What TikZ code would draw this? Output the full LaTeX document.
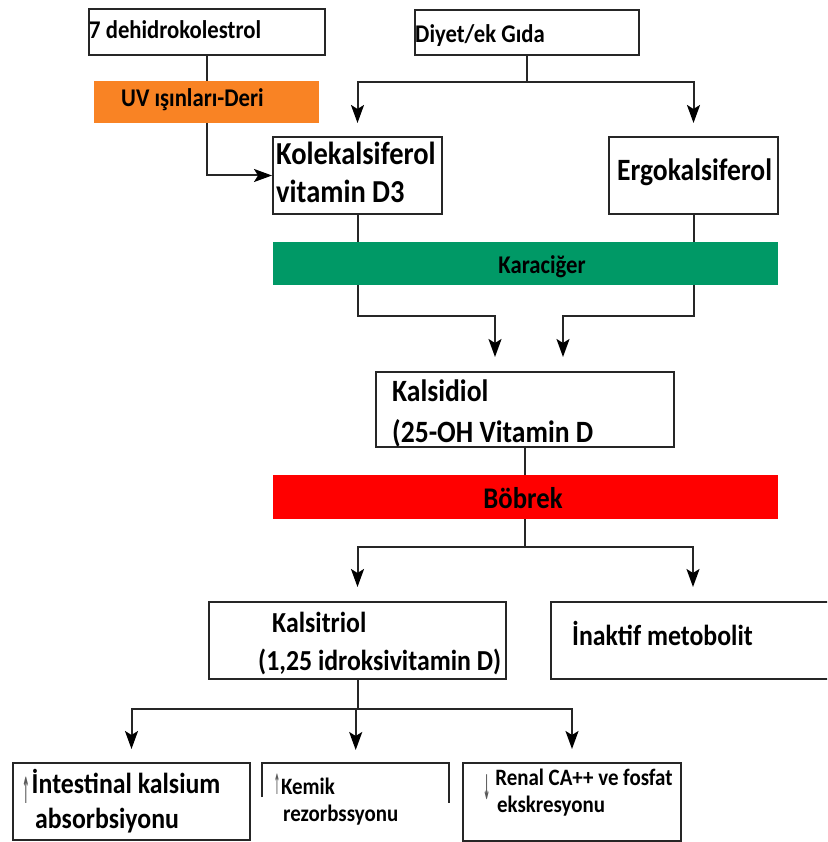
\documentclass[tikz,border=0pt]{standalone}
\usepackage{fontspec}
\setmainfont{Carlito}[FakeStretch=0.89]
\newfontfamily\arrowfont{DejaVu Sans}
\usetikzlibrary{arrows.meta,backgrounds}
\definecolor{uvorange}{HTML}{F98324}
\definecolor{livergreen}{HTML}{009966}
\definecolor{kidneyred}{HTML}{FF0000}
\definecolor{linegray}{HTML}{262626}
\newcommand{\upglyph}[2]{{\arrowfont\fontsize{#1}{#1}\selectfont\color{black!65}\raisebox{#2}{\scalebox{0.25}[1]{↑}}}}
\newcommand{\downglyph}[2]{{\arrowfont\fontsize{#1}{#1}\selectfont\color{black!65}\raisebox{#2}{\scalebox{0.25}[1]{↓}}}}
\tikzset{
  box/.style={draw=linegray, line width=2pt, fill=white, inner sep=0pt, anchor=north west},
  bar/.style={inner sep=0pt, anchor=north west},
  lbl/.style={inner sep=0pt, anchor=base west, text=black},
  conn/.style={draw=linegray, line width=2pt},
  arr/.style={conn, -{Stealth[length=18pt,width=13pt,inset=4pt,color=black]}},
  fA/.style={font=\bfseries\fontsize{25.5}{30}\selectfont},
  fB/.style={font=\bfseries\fontsize{32}{36}\selectfont},
  fC/.style={font=\bfseries\fontsize{31}{36}\selectfont},
  fD/.style={font=\bfseries\fontsize{29}{34}\selectfont},
  fE/.style={font=\bfseries\fontsize{23.5}{28}\selectfont},
  fK/.style={font=\bfseries\fontsize{30}{34}\selectfont},
}
\begin{document}
\begin{tikzpicture}[x=1pt,y=-1pt]
\useasboundingbox (0,0) rectangle (827,842);
\clip (0,0) rectangle (827,842);

% boxes
\node[box, minimum width=236pt, minimum height=46pt] (dehydro) at (88,8) {};
\node[box, minimum width=224pt, minimum height=45pt] (diyet) at (414,9) {};
\node[bar, fill=uvorange, minimum width=225pt, minimum height=42pt] (uv) at (94,81) {};
\node[box, minimum width=169pt, minimum height=77pt] (kole) at (272,136) {};
\node[box, minimum width=169pt, minimum height=77pt] (ergo) at (608,136) {};
\node[bar, fill=livergreen, minimum width=505pt, minimum height=43pt] (liver) at (273,242) {};
\node[box, minimum width=298pt, minimum height=75pt] (kalsidiol) at (375,371) {};
\node[bar, fill=kidneyred, minimum width=505pt, minimum height=44pt] (kidney) at (273,475) {};
\node[box, minimum width=297pt, minimum height=77pt] (kalsitriol) at (208,601) {};
\node[box, minimum width=284pt, minimum height=77pt] (inaktif) at (550,601) {};
\node[box, minimum width=237pt, minimum height=77pt] (intest) at (12,762) {};
\node[inner sep=0pt, anchor=north west, minimum width=187pt, minimum height=77pt] (kemik) at (262,763) {};
\draw[draw=linegray, line width=2pt] ([yshift=-34pt]kemik.north west) -- (kemik.north west) -- (kemik.north east) -- ([yshift=-40pt]kemik.north east);
\node[box, minimum width=218pt, minimum height=78pt] (renal) at (462,762) {};

% texts
\node[lbl, fA] (t7) at (89,39) {7 dehidrokolestrol};
\node[lbl, fA] (tdiyet) at (415,43) {Diyet/ek Gıda};
\node[lbl, fA] (tuv) at (121,107) {UV ışınları-Deri};
\node[lbl, fB] (tkole1) at (276,165) {Kolekalsiferol};
\node[lbl, fB] (tkole2) at (276,203) {vitamin D3};
\node[lbl, fC] (tergo) at (617,181) {Ergokalsiferol};
\node[lbl, fA, anchor=base] (tliver) at (542,273) {Karaciğer};
\node[lbl, fC] (tkd1) at (392,401) {Kalsidiol};
\node[lbl, fC] (tkd2) at (392,442) {(25-OH Vitamin D};
\node[lbl, fK, anchor=base] (tkidney) at (523,508) {Böbrek};
\node[lbl, fD] (tkt1) at (272,632) {Kalsitriol};
\node[lbl, fD] (tkt2) at (258,670) {(1,25 idroksivitamin D)};
\node[lbl, fD] (tin) at (572,645) {İnaktif metobolit};
\node[lbl, fD] (tint1) at (22,793) {\upglyph{36}{-10pt}\hspace{2pt}İntestinal kalsium};
\node[lbl, fD] (tint2) at (35,828) {absorbsiyonu};
\node[lbl, fE] (tkem1) at (274,794) {\upglyph{28}{0pt}\hspace{1pt}Kemik};
\node[lbl, fE] (tkem2) at (283,821) {rezorbssyonu};
\node[lbl, fE] (tren1) at (483,785) {\downglyph{34}{-14pt}\hspace{5pt}Renal CA++ ve fosfat};
\node[lbl, fE] (tren2) at (497,812) {ekskresyonu};

% connectors behind
\begin{scope}[on background layer]
\fill[white] (0,0) rectangle (827,842);
\draw[arr] (dehydro.south) |- (kole.west);
\draw[conn] (diyet.south) -- ([yshift=-26pt]diyet.south) coordinate (dsplit);
\draw[arr, shorten >=13pt] (dsplit) -| (kole.north);
\draw[arr, shorten >=13pt] (dsplit) -| (ergo.north);
\draw[arr, shorten >=14pt] (kole.south) |- ([xshift=-30pt,yshift=55pt]kalsidiol.north) -- ([xshift=-30pt]kalsidiol.north);
\draw[arr, shorten >=14pt] (ergo.south) |- ([xshift=38pt,yshift=55pt]kalsidiol.north) -- ([xshift=38pt]kalsidiol.north);
\draw[conn] (kalsidiol.south) -- ([yshift=-99pt]kalsidiol.south) coordinate (bsplit);
\draw[arr, shorten >=14pt] (bsplit) -| (kalsitriol.north);
\draw[arr, shorten >=14pt] (bsplit) -| (inaktif.north);
\draw[conn] (kalsitriol.south) -- ([yshift=-29pt]kalsitriol.south) coordinate (ksplit);
\draw[arr, shorten >=13pt] (ksplit) -| (intest.north);
\draw[arr, shorten >=13pt] (ksplit) -| (kemik.north);
\draw[arr, shorten >=13pt] (ksplit) -| (renal.north);
\end{scope}
\end{tikzpicture}
\end{document}
